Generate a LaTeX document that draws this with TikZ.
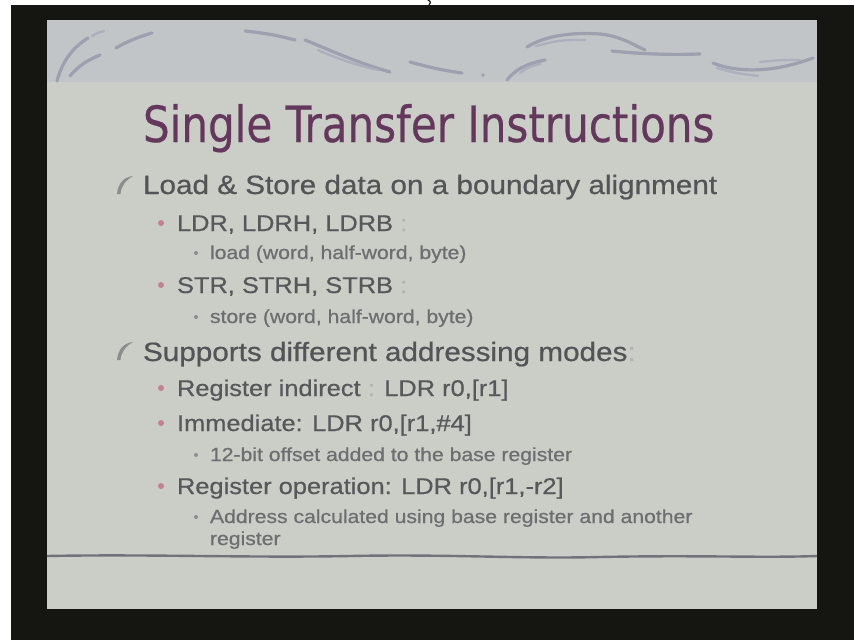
\documentclass[tikz,border=0pt]{standalone}
\usepackage{fontspec}
\setmainfont{Liberation Sans}[FakeStretch=1.12,FakeBold=0.6]
\newfontfamily\titlefont{DejaVu Sans Condensed}[FakeStretch=0.935,FakeBold=0.4]

\definecolor{framecol}{RGB}{21,22,18}
\definecolor{slidebg}{RGB}{203,205,199}
\definecolor{bandbg}{RGB}{194,197,200}
\definecolor{titlecol}{RGB}{100,56,92}
\definecolor{textdark}{RGB}{82,84,86}
\definecolor{textmid}{RGB}{86,88,90}
\definecolor{textlight}{RGB}{108,110,112}
\definecolor{faint}{RGB}{178,180,178}
\definecolor{bulletpink}{RGB}{196,128,142}
\definecolor{bulletgrey}{RGB}{140,142,144}
\definecolor{hookcol}{RGB}{140,142,142}
\definecolor{swirlcol}{RGB}{156,160,175}
\definecolor{swirllt}{RGB}{172,176,189}
\definecolor{rulecol}{RGB}{112,116,122}

\begin{document}
\begin{tikzpicture}[x=1pt,y=-1pt,
  txt/.style={anchor=base west,inner sep=0pt,outer sep=0pt},
  lvlone/.style={txt,text=textdark,font=\fontsize{26.5}{30}\selectfont},
  lvltwo/.style={txt,text=textmid,font=\fontsize{22.7}{27}\selectfont},
  lvlthree/.style={txt,text=textlight,font=\fontsize{18.9}{22.7}\selectfont},
  pinkdot/.style={circle,fill=bulletpink,inner sep=0pt,minimum size=6pt},
  greydot/.style={circle,fill=bulletgrey,inner sep=0pt,minimum size=4pt},
  swirl/.style={draw=swirlcol,line width=3.2pt,line cap=round},
  swirlthin/.style={draw=swirllt,line width=2.4pt,line cap=round},
  hook/.style={fill=hookcol},
]
\useasboundingbox (0,0) rectangle (854,640);

% screen surround and slide
\fill[white] (0,0) rectangle (854,640);
\fill[framecol] (11,5) rectangle (854,640);
\draw[framecol,line width=1.2pt,line cap=round] (428,0) .. controls (431,2) .. (429,5);
\fill[slidebg] (47,20) rectangle (817,609);
\fill[bandbg] (47,20) rectangle (817,82);

% decorative ribbons in the header band
\draw[swirl] (57,81) .. controls (62,62) and (72,48) .. (88,38);
\draw[swirlthin] (92,36) .. controls (97,33) .. (104,31);
\draw[swirl] (70,76) .. controls (78,66) and (88,60) .. (100,55);
\draw[swirl] (116,48) .. controls (126,42) and (138,37) .. (152,33);
\draw[swirl] (245,31) .. controls (265,33) and (280,36) .. (295,40);
\draw[swirl] (305,40) .. controls (330,50) and (355,62) .. (390,72);
\draw[swirlthin] (318,50) .. controls (340,60) and (360,66) .. (378,70);
\draw[swirl] (410,62) .. controls (425,66) and (440,70) .. (462,73);
\fill[swirlcol] (483,75) circle (1.8pt);
\draw[swirl] (507,80) .. controls (515,70) and (525,64) .. (545,60);
\draw[swirlthin] (520,73) .. controls (528,67) .. (540,64);
\draw[swirl] (527,47) .. controls (545,36) and (570,32) .. (600,34) .. controls (620,36) and (632,44) .. (645,50);
\draw[swirlthin] (536,46) .. controls (560,40) .. (585,40);
\draw[swirl] (612,51) .. controls (640,54) and (670,55) .. (700,54);
\draw[swirl] (713,63) .. controls (735,72) and (770,74) .. (813,58);
\draw[swirlthin] (760,62) .. controls (780,60) .. (800,60);
\draw[swirlthin] (717,68) .. controls (735,73) .. (758,76);

% title
\node[txt,font=\titlefont\fontsize{50}{56}\selectfont,text=titlecol] (title) at (143,142) {Single Transfer Instructions};

% first-level hooks
\fill[hook] (117,194) .. controls (118,183) and (124,177) .. (133,176) .. controls (126,180) and (121,186) .. (120.5,194) -- cycle;
\fill[hook] (117,360) .. controls (118,349) and (124,343) .. (133,342) .. controls (126,346) and (121,352) .. (120.5,360) -- cycle;

% bullet list
\node[lvlone] (t1) at (143,194) {Load \& Store data on a boundary alignment};
\node[pinkdot] (p1) at (161,223) {};
\node[lvltwo] (t2) at (177,231) {LDR, LDRH, LDRB \textcolor{faint}{:}};
\node[greydot] (g1) at (196,253) {};
\node[lvlthree] (t3) at (210,259) {load (word, half-word, byte)};
\node[pinkdot] (p2) at (161,285) {};
\node[lvltwo] (t4) at (177,293) {STR, STRH, STRB \textcolor{faint}{:}};
\node[greydot] (g2) at (196,317) {};
\node[lvlthree] (t5) at (210,323) {store (word, half-word, byte)};

\node[lvlone] (t6) at (143,361) {Supports different addressing modes\textcolor{faint}{:}};
\node[pinkdot] (p3) at (161,388) {};
\node[lvltwo] (t7) at (177,396) {Register indirect \textcolor{faint}{:} LDR r0,[r1]};
\node[pinkdot] (p4) at (161,423) {};
\node[lvltwo] (t8) at (177,431) {Immediate: LDR r0,[r1,\#4]};
\node[greydot] (g3) at (196,455) {};
\node[lvlthree] (t9) at (210,461) {12-bit offset added to the base register};
\node[pinkdot] (p5) at (161,486) {};
\node[lvltwo] (t10) at (177,494) {Register operation: LDR r0,[r1,-r2]};
\node[greydot] (g4) at (196,517) {};
\node[lvlthree] (t11) at (210,523) {Address calculated using base register and another};
\node[lvlthree] (t12) at (210,545) {register};

% footer rule
\draw[rulecol,line width=2.4pt] (47,556) .. controls (150,554) and (250,558) .. (350,556)
  .. controls (450,554) and (520,559) .. (600,557) .. controls (700,555) and (760,558) .. (817,556);
\end{tikzpicture}
\end{document}
